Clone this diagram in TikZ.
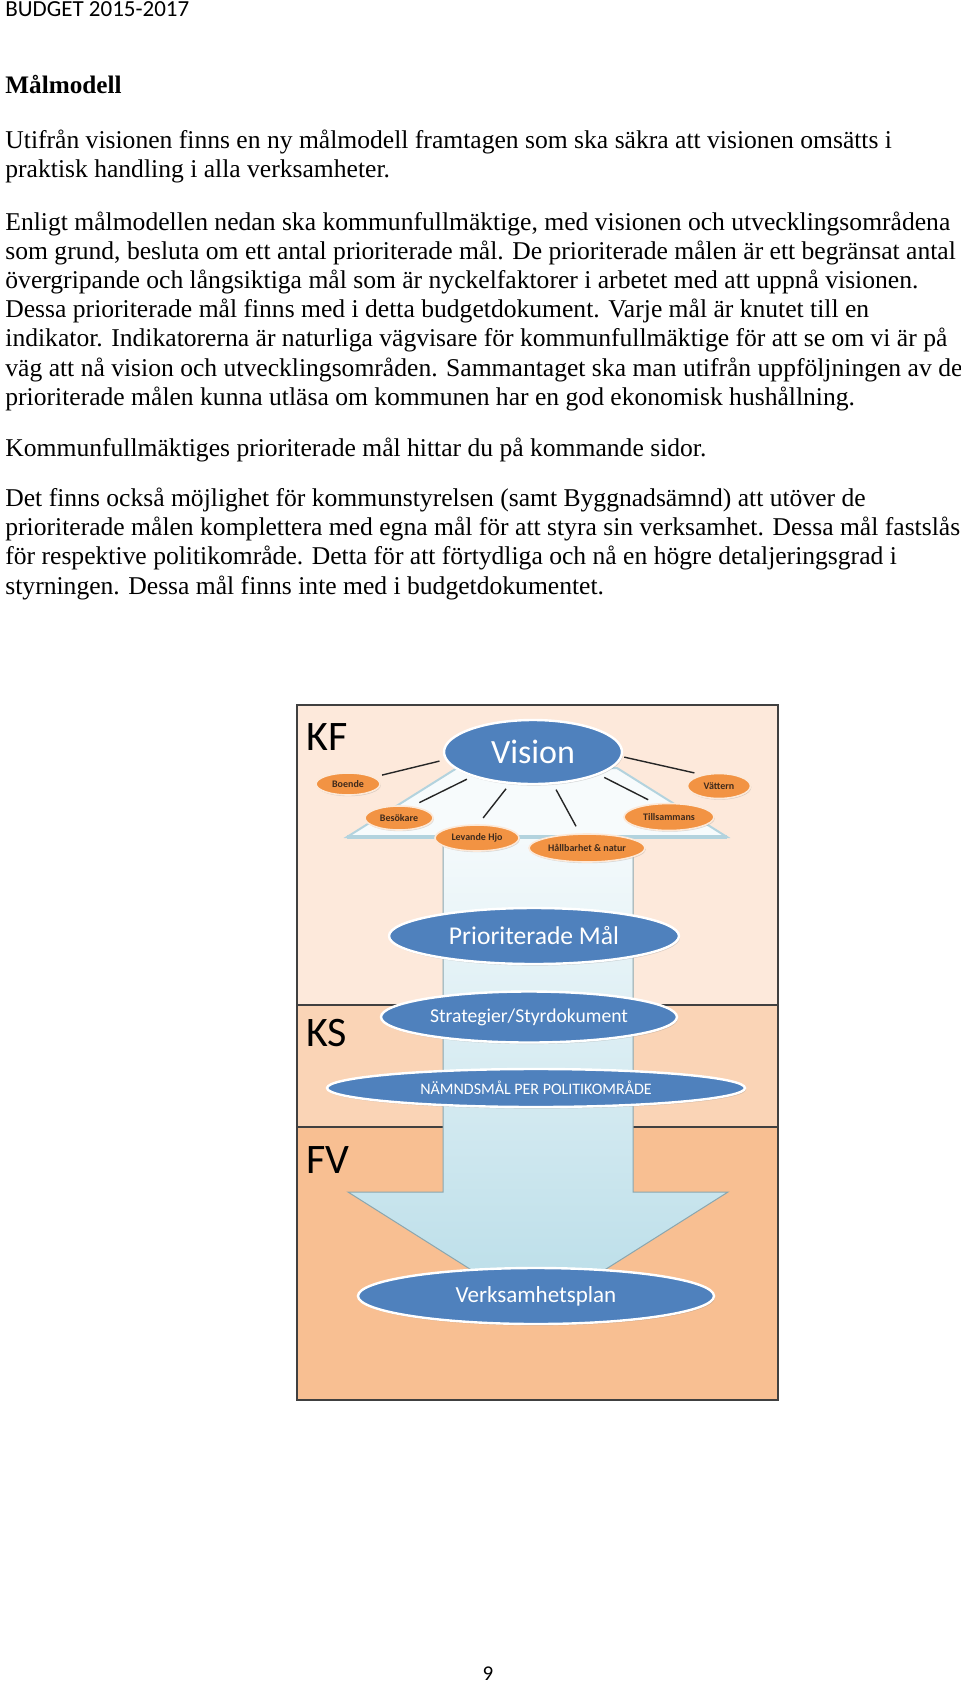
\documentclass[tikz,border=0pt]{standalone}
\usepackage{fontspec}
\setmainfont{Liberation Serif}
\newfontfamily\carlito{Carlito}
\usetikzlibrary{shapes.geometric,shadows}

\definecolor{kfpeach}{HTML}{FDE9DB}
\definecolor{kspeach}{HTML}{FAD4B6}
\definecolor{fvpeach}{HTML}{F8BF92}
\definecolor{ovalblue}{HTML}{4F81BD}
\definecolor{ovalorange}{HTML}{F29343}
\definecolor{labelbrown}{HTML}{3F2A1C}
\definecolor{shaftblue}{HTML}{B9DDE8}
\definecolor{plateedge}{HTML}{B3D3DE}

\tikzset{
    txt/.style={anchor=base west, inner sep=0pt, font=\fontsize{12.8}{15}\selectfont}
}
\tikzset{
    bigoval/.style={ellipse, fill=ovalblue, draw=white, line width=1.2pt,
    	inner sep=0pt, text=white,
    	drop shadow={shadow xshift=0.5pt, shadow yshift=-0.8pt, opacity=0.3}}
}
\tikzset{
    smalloval/.style={ellipse, fill=ovalorange, draw=white!80!ovalorange,
    	line width=0.8pt, inner sep=0pt, text=labelbrown,
    	font=\carlito\bfseries\fontsize{5}{6}\selectfont,
    	drop shadow={shadow xshift=0.4pt, shadow yshift=-0.6pt, opacity=0.3}}
}
\tikzset{
    spoke/.style={draw=black!85, line width=0.7pt, shorten <=3pt, shorten >=4pt}
}
\tikzset{
    band/.style={anchor=base west, inner sep=0pt,
    	font=\carlito\fontsize{21}{24}\selectfont}
}

\begin{document}
\begin{tikzpicture}[x=0.5pt, y=-0.5pt]
	\useasboundingbox (0,0) rectangle (960,1682);

	\node (head) [anchor=base west, inner sep=0pt,
		font=\carlito\fontsize{11.5}{13}\selectfont] at (5, 16) {BUDGET 2015-2017};
	\node (title) [txt, font=\bfseries\fontsize{12.6}{15}\selectfont] at (5, 93) {Målmodell};

	\node (p1) [txt] at (5, 148) {Utifrån visionen finns en ny målmodell framtagen som ska säkra att visionen omsätts i};
	\node (p2) [txt] at (5, 177) {praktisk handling i alla verksamheter.};
	\node (p3) [txt] at (5, 230) {Enligt målmodellen nedan ska kommunfullmäktige, med visionen och utvecklingsområdena};
	\node (p4) [txt] at (5, 259) {som grund, besluta om ett antal prioriterade mål. De prioriterade målen är ett begränsat antal};
	\node (p5) [txt] at (5, 288) {övergripande och långsiktiga mål som är nyckelfaktorer i arbetet med att uppnå visionen.};
	\node (p6) [txt] at (5, 317) {Dessa prioriterade mål finns med i detta budgetdokument. Varje mål är knutet till en};
	\node (p7) [txt] at (5, 346) {indikator. Indikatorerna är naturliga vägvisare för kommunfullmäktige för att se om vi är på};
	\node (p8) [txt] at (5, 376) {väg att nå vision och utvecklingsområden. Sammantaget ska man utifrån uppföljningen av de};
	\node (p9) [txt] at (5, 405) {prioriterade målen kunna utläsa om kommunen har en god ekonomisk hushållning.};
	\node (p10) [txt] at (5, 456) {Kommunfullmäktiges prioriterade mål hittar du på kommande sidor.};
	\node (p11) [txt] at (5, 506) {Det finns också möjlighet för kommunstyrelsen (samt Byggnadsämnd) att utöver de};
	\node (p12) [txt] at (5, 535) {prioriterade målen komplettera med egna mål för att styra sin verksamhet. Dessa mål fastslås};
	\node (p13) [txt] at (5, 564) {för respektive politikområde. Detta för att förtydliga och nå en högre detaljeringsgrad i};
	\node (p14) [txt] at (5, 594) {styrningen. Dessa mål finns inte med i budgetdokumentet.};

	% bands
	\fill[kfpeach] (297,705) rectangle (778,1005);
	\fill[kspeach] (297,1005) rectangle (778,1127);
	\fill[fvpeach] (297,1127) rectangle (778,1400);
	\draw[black!75, line width=0.6pt] (297,1005) -- (778,1005) (297,1127) -- (778,1127);

	% arrow and plate
	\shadedraw[top color=white!85!shaftblue, bottom color=shaftblue,
		draw=black!25!shaftblue, line width=0.5pt]
		(443,837) -- (443,1192) -- (348,1192) -- (538,1312) -- (728,1192)
		-- (633,1192) -- (633,837) -- cycle;
	\filldraw[fill=white!88!shaftblue, draw=plateedge, line width=1pt]
		(347,837) -- (457,768) -- (617,768) -- (727,837) -- cycle;
	\draw[plateedge, line width=1.6pt] (347,837) -- (727,837);
	\draw[black!75, line width=0.8pt] (297,705) rectangle (778,1400);

	\node (kf) [band] at (306,750) {KF};
	\node (ks) [band] at (306,1046) {KS};
	\node (fv) [band] at (306,1173) {FV};

	\node (vision) [bigoval, minimum width=89pt, minimum height=32pt,
		font=\carlito\fontsize{17}{20}\selectfont] at (533,752) {Vision};
	\node (boende) [smalloval, minimum width=32pt, minimum height=11pt] at (348,784) {Boende};
	\node (besokare) [smalloval, minimum width=34pt, minimum height=12pt] at (399,818) {Besökare};
	\node (levande) [smalloval, minimum width=42pt, minimum height=13pt] at (477,838) {Levande Hjo};
	\node (hallbar) [smalloval, minimum width=58pt, minimum height=14pt] at (587,848) {Hållbarhet \& natur};
	\node (tillsam) [smalloval, minimum width=45pt, minimum height=13.5pt] at (669,817) {Tillsammans};
	\node (vattern) [smalloval, minimum width=31.5pt, minimum height=12.5pt] at (719,786) {Vättern};

	\draw[spoke] (vision.185) -- (boende.15);
	\draw[spoke] (vision.202) -- (besokare.42);
	\draw[spoke] (vision.234) -- (levande.85);
	\draw[spoke] (vision.302) -- (hallbar.116);
	\draw[spoke] (vision.341) -- (tillsam.135);
	\draw[spoke, shorten <=1pt] (vision.357) -- (vattern.146);

	\node (prio) [bigoval, minimum width=145pt, minimum height=28pt,
		font=\carlito\fontsize{12.8}{15}\selectfont] at (534,936) {Prioriterade Mål};
	\node (strat) [bigoval, minimum width=148pt, minimum height=25.5pt,
		font=\carlito\fontsize{9.8}{12}\selectfont] at (529,1017) {Strategier/Styrdokument};
	\node (namnd) [bigoval, minimum width=209pt, minimum height=19pt,
		font=\carlito\fontsize{8}{10}\selectfont] at (536,1088) {NÄMNDSMÅL PER POLITIKOMRÅDE};
	\node (verks) [bigoval, minimum width=178pt, minimum height=28pt,
		font=\carlito\fontsize{11.5}{14}\selectfont] at (536,1296) {Verksamhetsplan};

	\node (page) [inner sep=0pt, anchor=base, font=\carlito\fontsize{10.5}{12}\selectfont]
		at (488,1680) {9};
\end{tikzpicture}
\end{document}
